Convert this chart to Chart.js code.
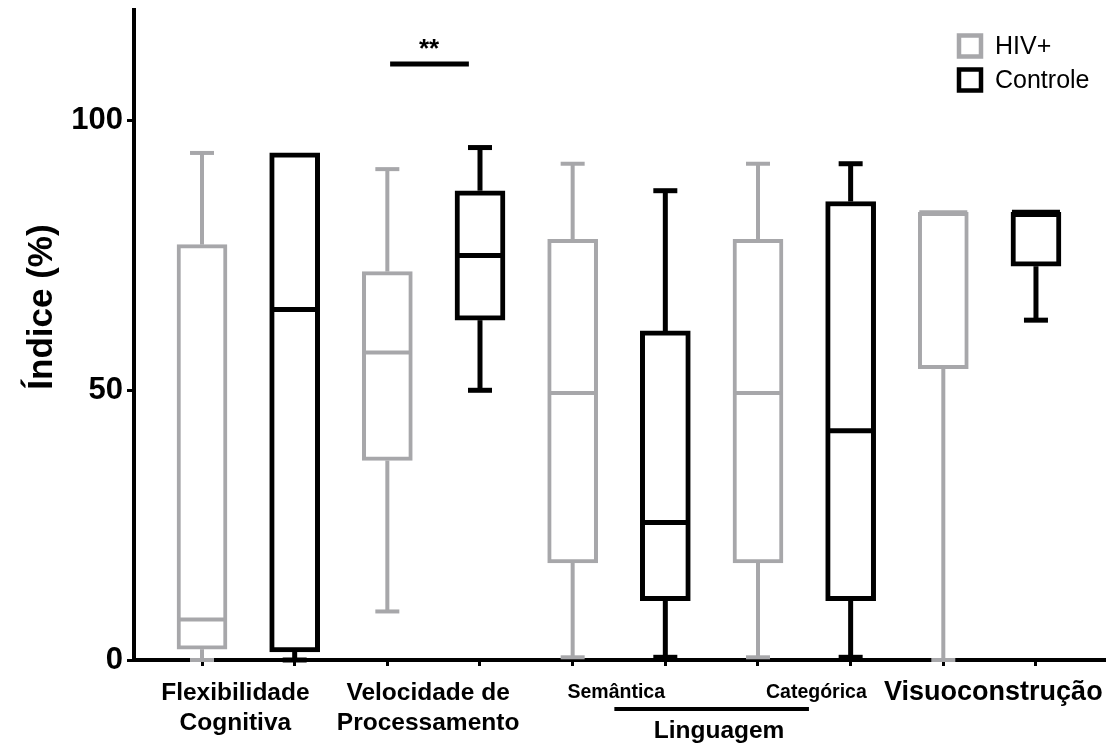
<!DOCTYPE html>
<html lang="pt">
<head>
  <meta charset="UTF-8">
  <title>Índice (%)</title>
  <script src="https://cdn.jsdelivr.net/npm/chart.js"></script>
  <style>
    body { margin: 0; background: #fff; }
    .chart-container { width: 1110px; height: 744px; position: relative; }
  </style>
</head>
<body>
  <div class="chart-container">
    <canvas id="box-chart"></canvas>
  </div>
  <script>
    // dados
    const groupLabels = ['Flexibilidade Cognitiva', 'Velocidade de Processamento', 'Semântica', 'Categórica', 'Visuoconstrução'];
    const seriesNames = ['HIV+', 'Controle'];
    const yTicks = [0, 50, 100];

    const hivMin = [0, 9, 0.5, 0.5, 0];
    const hivQ1  = [2, 37, 18, 18, 54];
    const hivMed = [7.5, 57, 49.5, 49.5, 83];
    const hivQ3  = [77, 72, 78, 78, 83];
    const hivMax = [94, 91, 92, 92, 83];

    const ctlMin = [0, 50, 0.5, 0.5, 63];
    const ctlQ1  = [1.5, 63, 11, 11, 73];
    const ctlMed = [65, 75, 25.5, 42.5, 83];
    const ctlQ3  = [94, 87, 61, 85, 83];
    const ctlMax = [94, 95, 87, 92, 83];

    // significância entre HIV+ e Controle (velocidade)
    const sigText = '**';
    const sigValue = 110.5;

    const FONT = "'Liberation Sans', Arial, sans-serif";
    const GRAY = '#a7a7aa';
    const BLACK = '#000';

    const hivX = hivQ1.map((_, i) => i * 2);
    const ctlX = ctlQ1.map((_, i) => i * 2 + 1);

    // onde ficam os rótulos do eixo x (em unidades do eixo)
    const labelPos = [
      { x: 0.36, lines: ['Flexibilidade', 'Cognitiva'], size: 24.5 },
      { x: 2.44, lines: ['Velocidade de', 'Processamento'], size: 24.5 },
      { x: 4.47, lines: ['Semântica'], size: 19.5 },
      { x: 6.63, lines: ['Categórica'], size: 19.5 },
      { x: 8.54, lines: ['Visuoconstrução'], size: 27 }
    ];

    const boxExtras = {
      id: 'boxExtras',
      afterDatasetsDraw(chart) {
        const ctx = chart.ctx;
        const x = chart.scales.x, y = chart.scales.y;
        const sets = [
          { mins: hivMin, meds: hivMed, q1: hivQ1, q3: hivQ3, maxs: hivMax, color: GRAY, lw: 4 },
          { mins: ctlMin, meds: ctlMed, q1: ctlQ1, q3: ctlQ3, maxs: ctlMax, color: BLACK, lw: 5 }
        ];
        ctx.save();
        sets.forEach((s, di) => {
          const meta = chart.getDatasetMeta(di);
          ctx.strokeStyle = s.color;
          ctx.lineWidth = s.lw;
          ctx.lineCap = 'butt';
          meta.data.forEach((bar, i) => {
            const cx = bar.x;
            const half = bar.width / 2;
            const cap = 12;
            const seg = (x1, y1, x2, y2) => {
              ctx.beginPath();
              ctx.moveTo(x1, y1);
              ctx.lineTo(x2, y2);
              ctx.stroke();
            };
            // bigodes
            if (s.maxs[i] > s.q3[i]) {
              seg(cx, y.getPixelForValue(s.q3[i]), cx, y.getPixelForValue(s.maxs[i]));
              seg(cx - cap, y.getPixelForValue(s.maxs[i]), cx + cap, y.getPixelForValue(s.maxs[i]));
            }
            if (s.mins[i] < s.q1[i]) {
              seg(cx, y.getPixelForValue(s.q1[i]), cx, y.getPixelForValue(s.mins[i]));
              seg(cx - cap, y.getPixelForValue(s.mins[i]), cx + cap, y.getPixelForValue(s.mins[i]));
            }
            // mediana
            const my = y.getPixelForValue(s.meds[i]);
            seg(cx - half + 1, my, cx + half - 1, my);
          });
        });

        // barra de significância
        ctx.strokeStyle = BLACK;
        ctx.lineWidth = 5;
        const sy = y.getPixelForValue(sigValue);
        ctx.beginPath();
        ctx.moveTo(x.getPixelForValue(hivX[1] + 0.03), sy);
        ctx.lineTo(x.getPixelForValue(hivX[1] + 0.88), sy);
        ctx.stroke();
        ctx.fillStyle = BLACK;
        ctx.font = 'bold 26px ' + FONT;
        ctx.textAlign = 'center';
        ctx.textBaseline = 'middle';
        ctx.fillText(sigText, x.getPixelForValue(hivX[1] + 0.45), sy - 14);
        ctx.restore();
      },
      afterDraw(chart) {
        const ctx = chart.ctx;
        const x = chart.scales.x;
        ctx.save();
        ctx.fillStyle = BLACK;
        ctx.textAlign = 'center';
        ctx.textBaseline = 'middle';

        // rótulos dos grupos
        labelPos.forEach(l => {
          ctx.font = 'bold ' + l.size + 'px ' + FONT;
          l.lines.forEach((t, k) => ctx.fillText(t, x.getPixelForValue(l.x), 693 + k * 30));
        });
        // Linguagem
        ctx.strokeStyle = BLACK;
        ctx.lineWidth = 4;
        ctx.beginPath();
        ctx.moveTo(x.getPixelForValue(4.45), 709);
        ctx.lineTo(x.getPixelForValue(6.55), 709);
        ctx.stroke();
        ctx.font = 'bold 24.5px ' + FONT;
        ctx.fillText('Linguagem', x.getPixelForValue(5.58), 731);

        // título do eixo y
        ctx.save();
        ctx.translate(42, 307);
        ctx.rotate(-Math.PI / 2);
        ctx.font = 'bold 35px ' + FONT;
        ctx.fillText('Índice (%)', 0, 0);
        ctx.restore();

        // legenda
        const items = [[seriesNames[0], GRAY, 46], [seriesNames[1], BLACK, 80]];
        ctx.textAlign = 'left';
        ctx.font = '25px ' + FONT;
        items.forEach(([name, color, cy]) => {
          ctx.strokeStyle = color;
          ctx.lineWidth = 4.5;
          ctx.strokeRect(959, cy - 10.5, 22, 21);
          ctx.fillStyle = BLACK;
          ctx.fillText(name, 995, cy + 1);
        });
        ctx.restore();
      }
    };

    const ctx = document.getElementById('box-chart').getContext('2d');
    new Chart(ctx, {
      type: 'bar',
      data: {
        datasets: [
          {
            label: seriesNames[0],
            data: hivX.map((v, i) => ({ x: v, y: [hivQ1[i], hivQ3[i]] })),
            backgroundColor: '#fff',
            borderColor: GRAY,
            borderWidth: 4,
            borderSkipped: false
          },
          {
            label: seriesNames[1],
            data: ctlX.map((v, i) => ({ x: v, y: [ctlQ1[i], ctlQ3[i]] })),
            backgroundColor: '#fff',
            borderColor: BLACK,
            borderWidth: 5,
            borderSkipped: false
          }
        ]
      },
      options: {
        responsive: true,
        maintainAspectRatio: false,
        animation: false,
        grouped: false,
        barThickness: 50,
        layout: { padding: { top: 10, right: 5, left: 0, bottom: 0 } },
        plugins: { legend: { display: false }, tooltip: { enabled: false } },
        scales: {
          x: {
            type: 'linear',
            min: -0.734,
            max: 9.745,
            offset: false,
            afterBuildTicks: s => { s.ticks = hivX.concat(ctlX).sort((a, b) => a - b).map(v => ({ value: v })); },
            afterFit: s => { s.height = 84; s.paddingLeft = 0; s.paddingRight = 0; },
            ticks: { display: false },
            grid: { offset: false, drawOnChartArea: false, tickLength: 6, tickWidth: 3, tickColor: BLACK },
            border: { color: BLACK, width: 4 }
          },
          y: {
            min: 0,
            max: 120.5,
            afterBuildTicks: s => { s.ticks = yTicks.map(v => ({ value: v })); },
            afterFit: s => { s.width = 134; s.paddingTop = 0; s.paddingBottom = 0; },
            ticks: { color: BLACK, font: { family: FONT, size: 31, weight: 'bold' }, padding: 4 },
            grid: { drawOnChartArea: false, tickLength: 7, tickWidth: 3, tickColor: BLACK },
            border: { color: BLACK, width: 4 }
          }
        }
      },
      plugins: [boxExtras]
    });
  </script>
</body>
</html>
